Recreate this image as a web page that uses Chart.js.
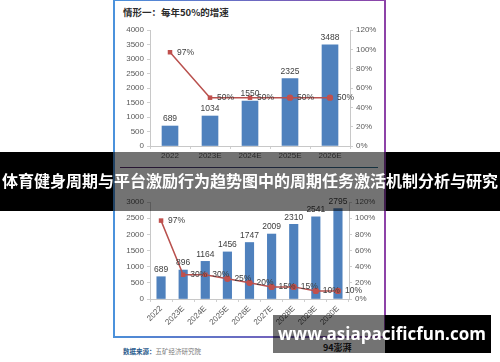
<!DOCTYPE html>
<html>
<head>
<meta charset="utf-8">
<script src="https://cdn.jsdelivr.net/npm/chart.js@4/dist/chart.umd.min.js"></script>
<style>
  body { margin: 0; width: 500px; height: 362px; background: #fff; position: relative; overflow: hidden; font-family: "Noto Sans CJK SC", sans-serif; }
  .abs { position: absolute; }
  #frameLeft { left: 113px; top: 0; width: 2px; height: 338px; background: #4b92dc; }
  #frameRight { left: 384px; top: 0; width: 2px; height: 338px; background: #8d43a8; }
  #frameTop { left: 113px; top: 0; width: 273px; height: 1px; background: linear-gradient(90deg, #4b92dc, #8d43a8); }
  #frameBottom { left: 113px; top: 336px; width: 273px; height: 2px; background: linear-gradient(90deg, #4b8fd8, #8d43a8); }
  #titre { left: 123px; top: 5px; font-size: 9.5px; font-weight: bold; color: #2b2b2b; white-space: nowrap; }
  #sep { left: 120px; top: 167px; width: 258px; height: 1px; background: linear-gradient(90deg, #5a2d6e, #2f6f8c); }
  #banner { left: 0; top: 152px; width: 500px; height: 59px; }
  #banner .blk { position: absolute; top: 0; height: 59px; background: #000; }
  #banner .mid { position: absolute; top: 0; left: 113px; width: 273px; height: 59px; background: rgba(0,0,0,0.55); }
  #bannerText { position: absolute; left: -10px; top: 0; width: 520px; height: 59px; line-height: 57px; text-align: center; color: #fff; font-size: 16px; font-weight: bold; white-space: nowrap; }
  #source { left: 123px; top: 346px; font-size: 6.5px; color: #7a7a7a; white-space: nowrap; }
  #source b { color: #2a5a8c; }
  #logo { left: 323px; top: 341px; font-size: 9px; font-weight: bold; color: #222; white-space: nowrap; }
  #wm { left: 273px; top: 315px; width: 218px; height: 38px; }
  #wm .mid { position: absolute; left: 0; top: 0; width: 112px; height: 38px; background: rgba(0,0,0,0.55); }
  #wm .blk { position: absolute; left: 112px; top: 0; width: 106px; height: 38px; background: #000; }
  #wmText { position: absolute; left: 0; top: 0; width: 218px; height: 38px; line-height: 38px; text-align: center; color: #fff; font-family: "Open Sans", sans-serif; font-weight: bold; font-size: 17px; white-space: nowrap; }
</style>
</head>
<body>

<div id="frameTop" class="abs"></div>
<div id="frameLeft" class="abs"></div>
<div id="frameRight" class="abs"></div>
<div id="frameBottom" class="abs"></div>
<div id="titre" class="abs">情形一：每年50%的增速</div>

<canvas id="chartHaut" class="abs" width="272" height="145" style="left:113px;top:22px"></canvas>
<div id="sep" class="abs"></div>
<canvas id="chartBas" class="abs" width="272" height="146" style="left:113px;top:190px"></canvas>

<div id="source" class="abs"><b>数据来源：</b>五矿经济研究院</div>
<div id="logo" class="abs">94澎湃</div>

<div id="banner" class="abs">
  <div class="blk" style="left:0;width:113px"></div>
  <div class="mid"></div>
  <div class="blk" style="left:386px;width:114px"></div>
  <div id="bannerText">体育健身周期与平台激励行为趋势图中的周期任务激活机制分析与研究</div>
</div>

<div id="wm" class="abs">
  <div class="mid"></div>
  <div class="blk"></div>
  <div id="wmText">www.asiapacificfun.com</div>
</div>

<script>
// ---------------------------------------------------------------------------
// Données
// ---------------------------------------------------------------------------
const anneesHaut = ["2022", "2023E", "2024E", "2025E", "2026E"];
const valeursHaut = [689, 1034, 1550, 2325, 3488];
const croissanceHaut = [97, 50, 50, 50, 50];

const anneesBas = ["2022", "2023E", "2024E", "2025E", "2026E", "2027E", "2028E", "2029E", "2030E"];
const valeursBas = [689, 896, 1164, 1456, 1747, 2009, 2310, 2541, 2795];
const croissanceBas = [97, 30, 30, 25, 20, 15, 15, 10, 10];

const BLEU = "#4f81bd";
const ROUGE = "#b9514e";
const GRIS = "#595959";

Chart.defaults.font.family = '"Liberation Sans", Arial, sans-serif';
Chart.defaults.font.size = 8;
Chart.defaults.color = GRIS;

// étiquettes de valeur (barres au-dessus, ligne à droite)
const etiquettes = {
  id: "etiquettes",
  afterDatasetsDraw(chart) {
    const ctx = chart.ctx;
    ctx.save();
    ctx.font = '8.5px "Liberation Sans", Arial, sans-serif';
    ctx.fillStyle = "#404040";
    chart.data.datasets.forEach((ds, i) => {
      const meta = chart.getDatasetMeta(i);
      meta.data.forEach((el, j) => {
        if (ds.type === "bar") {
          ctx.textAlign = "center";
          ctx.textBaseline = "middle";
          ctx.fillText(String(ds.data[j]), el.x, el.y - 7);
        } else {
          ctx.textAlign = "left";
          ctx.textBaseline = "middle";
          ctx.fillText(ds.data[j] + "%", el.x + 7, el.y);
        }
      });
    });
    ctx.restore();
  }
};

function axeY(max, pas, largeur, position, pourcent) {
  return {
    position: position,
    min: 0,
    max: max,
    ticks: {
      stepSize: pas,
      padding: 3,
      callback: v => pourcent ? v + "%" : v
    },
    grid: { drawOnChartArea: false, tickLength: 3, color: "#d0d0d0" },
    border: { color: "#c8c8c8" },
    afterFit: s => { s.width = largeur; }
  };
}

function creerGraphique(id, labels, barres, ligne, opts) {
  return new Chart(document.getElementById(id), {
    data: {
      labels: labels,
      datasets: [
        {
          type: "line",
          data: ligne,
          yAxisID: "y1",
          order: 0,
          borderColor: ROUGE,
          borderWidth: 1.5,
          backgroundColor: "#c0504d",
          pointStyle: opts.formes,
          pointRadius: 3.2,
          pointBorderWidth: 0
        },
        {
          type: "bar",
          data: barres,
          yAxisID: "y",
          order: 1,
          backgroundColor: BLEU,
          barThickness: opts.epaisseur
        }
      ]
    },
    options: {
      responsive: false,
      devicePixelRatio: 1,
      animation: false,
      layout: { padding: { top: opts.haut, left: 0, right: 0, bottom: 0 } },
      plugins: { legend: { display: false }, tooltip: { enabled: false } },
      scales: {
        x: {
          ticks: {
            padding: 2,
            maxRotation: opts.rotation,
            minRotation: opts.rotation,
            autoSkip: false
          },
          grid: { drawOnChartArea: false, tickLength: 3, color: "#d0d0d0", offset: true },
          border: { color: "#c8c8c8" },
          afterFit: s => { s.height = opts.hauteurX; }
        },
        y: axeY(opts.maxY, 500, 37, "left", false),
        y1: axeY(120, 20, opts.droite, "right", true)
      }
    },
    plugins: [etiquettes]
  });
}

document.addEventListener("DOMContentLoaded", () => {
  creerGraphique("chartHaut", anneesHaut, valeursHaut, croissanceHaut, {
    maxY: 4000, haut: 8, hauteurX: 21, droite: 35, epaisseur: 16, rotation: 0,
    formes: ["rect", "rect", "rect", "circle", "circle"]
  });
  creerGraphique("chartBas", anneesBas, valeursBas, croissanceBas, {
    maxY: 3000, haut: 12, hauteurX: 37, droite: 36, epaisseur: 8.5, rotation: 45,
    formes: ["rect", "rect", "rect", "circle", "circle", "circle", "circle", "circle", "circle"]
  });
});
</script>
</body>
</html>
